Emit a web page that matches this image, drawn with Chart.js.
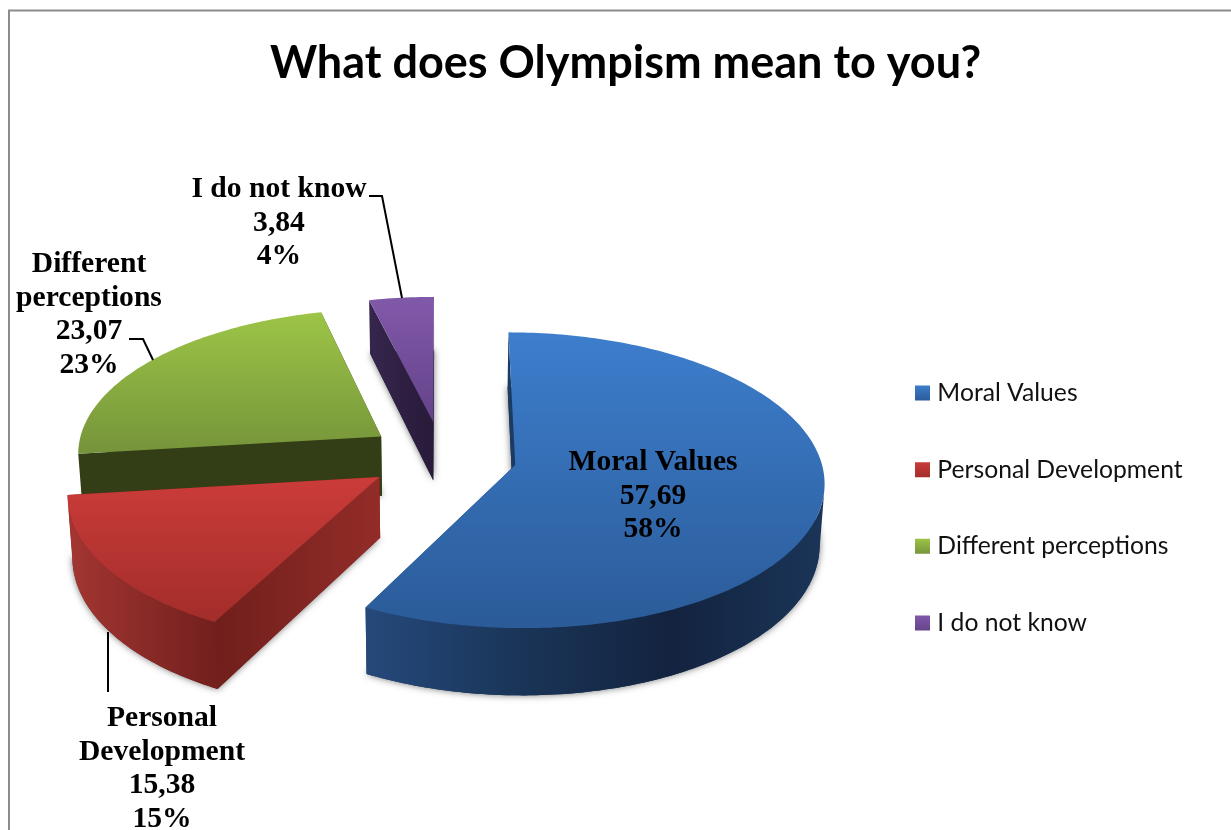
<!DOCTYPE html>
<html>
<head>
<meta charset="utf-8">
<title>What does Olympism mean to you?</title>
<style>
  html, body { margin: 0; background: #fff; }
  canvas { display: block; }
</style>
<script src="https://cdn.jsdelivr.net/npm/chart.js@4"></script>
</head>
<body>
<canvas id="chart" width="1231" height="830"></canvas>
<script>
const categories = ['Moral Values', 'Personal Development', 'Different perceptions', 'I do not know'];
const values = [57.69, 15.38, 23.07, 3.84];
const chartTitle = 'What does Olympism mean to you?';

// label text per slice, wrapped by hand
const labelLines = [['Moral Values'], ['Personal', 'Development'], ['Different', 'perceptions'], ['I do not know']];

// slice styling: top face gradient (back to front), rim and radial wall shading
const topColors = [['#3d7ecd', '#2b5b98'], ['#cb3c39', '#a22d2a'], ['#9dc547', '#75943a'], ['#8159aa', '#64438a']];
const rimColors = [['#25497b', '#1a3558', '#13233f', '#1a3558'], ['#a33632', '#721f1d'], ['#333e16', '#333e16'], ['#34254c', '#281a38']];
const startWallColors = [['#1c3b63', '#1c3b63'], ['#701f1c', '#932c28'], ['#333e16', '#333e16'], ['#36264e', '#281a38']];
const endWallColors = [['#1c3b63', '#1c3b63'], ['#701f1c', '#701f1c'], ['#323d15', '#343f16'], ['#2a1c3c', '#2a1c3c']];

// where each label block sits: centre x, centre y of its first line
const labelAnchors = [[653, 462], [162, 718], [89, 264], [279, 189]];
const labelLineHeight = 33.9;
// leader lines from label to slice
const leaderLines = [
  null,
  [[108, 632], [108, 692]],
  [[129, 339], [143, 339], [153, 360]],
  [[369, 196], [382, 196], [402, 298]]
];

const drawOrder = [3, 2, 0, 1];

// pie projection
const pieCenter = { x: 442, y: 456.5 };
const pieRadius = 305;
const explode = 75;
const tilt = 0.474;
const perspective = 0.102;
const depth = 60;
const floorShrink = 0.987;

function project(arc, angle, radius, lower) {
  const mid = (arc.startAngle + arc.endAngle) / 2;
  const off = arc.options.offset;
  const wx = off * Math.cos(mid) + radius * Math.cos(angle);
  const wy = off * Math.sin(mid) + radius * Math.sin(angle);
  const s = 1 / (1 - perspective * wy / arc.outerRadius);
  if (lower) {
    return [arc.x + wx * s * floorShrink, arc.y + wy * tilt * s + depth * s];
  }
  return [arc.x + wx * s, arc.y + wy * tilt * s];
}

function arcPoints(arc, lower) {
  const pts = [];
  const steps = Math.ceil((arc.endAngle - arc.startAngle) / (Math.PI / 180));
  for (let i = 0; i <= steps; i++) {
    const a = arc.startAngle + (arc.endAngle - arc.startAngle) * i / steps;
    pts.push(project(arc, a, arc.outerRadius, lower));
  }
  return pts;
}

function tracePoly(ctx, pts) {
  ctx.beginPath();
  pts.forEach((p, i) => (i ? ctx.lineTo(p[0], p[1]) : ctx.moveTo(p[0], p[1])));
  ctx.closePath();
}

function gradientFor(ctx, x0, y0, x1, y1, colors) {
  const g = ctx.createLinearGradient(x0, y0, x1, y1);
  colors.forEach((c, i) => g.addColorStop(i / (colors.length - 1), c));
  return g;
}

function fillHorizontal(ctx, pts, colors) {
  const xs = pts.map(p => p[0]);
  ctx.fillStyle = gradientFor(ctx, Math.min(...xs), 0, Math.max(...xs), 0, colors);
  tracePoly(ctx, pts);
  ctx.fill();
}

// rim segments turned towards the viewer have a negative signed area on screen
function frontRange(top, bottom) {
  let first = -1;
  let last = -1;
  for (let k = 0; k < top.length - 1; k++) {
    const q = [top[k], top[k + 1], bottom[k + 1], bottom[k]];
    let area = 0;
    q.forEach((p, n) => {
      const r = q[(n + 1) % 4];
      area += p[0] * r[1] - r[0] * p[1];
    });
    if (area < 0) {
      if (first < 0) first = k;
      last = k + 1;
    }
  }
  return [first, last];
}

function drawSlice(ctx, arc, i) {
  const top = arcPoints(arc, false);
  const bottom = arcPoints(arc, true);
  const apexTop = project(arc, 0, 0, false);
  const apexBottom = project(arc, 0, 0, true);

  // soft shadow comes from the floor of the slice
  ctx.save();
  ctx.shadowColor = 'rgba(0,0,0,0.55)';
  ctx.shadowBlur = 7;
  ctx.fillStyle = rimColors[i][rimColors[i].length - 1];
  tracePoly(ctx, [apexBottom, ...bottom]);
  ctx.fill();
  ctx.restore();

  // the wall facing away goes down first so the nearer one covers it
  const startFacing = Math.sin(arc.startAngle - Math.PI / 2);
  const endFacing = Math.sin(arc.endAngle + Math.PI / 2);
  const startWall = [apexTop, top[0], bottom[0], apexBottom];
  const endWall = [apexTop, top[top.length - 1], bottom[bottom.length - 1], apexBottom];
  if (endFacing < startFacing) {
    fillHorizontal(ctx, endWall, endWallColors[i]);
    fillHorizontal(ctx, startWall, startWallColors[i]);
  } else {
    fillHorizontal(ctx, startWall, startWallColors[i]);
    fillHorizontal(ctx, endWall, endWallColors[i]);
  }

  const [first, last] = frontRange(top, bottom);
  if (first >= 0) {
    const rimTop = top.slice(first, last + 1);
    const rimBottom = bottom.slice(first, last + 1).reverse();
    fillHorizontal(ctx, [...rimTop, ...rimBottom], rimColors[i]);
  }

  const face = [apexTop, ...top];
  const ys = face.map(p => p[1]);
  ctx.fillStyle = gradientFor(ctx, 0, Math.min(...ys), 0, Math.max(...ys), topColors[i]);
  tracePoly(ctx, face);
  ctx.fill();
}

const pie3d = {
  id: 'pie3d',
  afterLayout(chart) {
    // pin the plot box around the pie centre
    const box = 380;
    chart.chartArea = {
      left: pieCenter.x - box, right: pieCenter.x + box,
      top: pieCenter.y - box, bottom: pieCenter.y + box,
      width: box * 2, height: box * 2
    };
    // legend column sits closer to the pie and lower than its default slot
    const legend = chart.legend;
    const pad = legend.options.labels.padding;
    const w = legend.width;
    legend.left = 920 - pad;
    legend.right = legend.left + w;
    const colH = legend.columnSizes[0].height;
    legend.top = 508 - colH / 2 - pad / 2;
    legend.bottom = legend.top + colH + pad;
    legend.adjustHitBoxes();
  },
  beforeDraw(chart) {
    const ctx = chart.ctx;
    // page frame, open on the right and at the bottom
    ctx.save();
    ctx.strokeStyle = '#8c8c8c';
    ctx.lineWidth = 2;
    ctx.beginPath();
    ctx.moveTo(9, 830);
    ctx.lineTo(9, 10.5);
    ctx.lineTo(1231, 10.5);
    ctx.stroke();
    ctx.restore();

    // small box plus a wide stroke keeps the text tight against the swatch
    const legend = chart.legend;
    legend.legendItems.forEach((item, i) => {
      const hit = legend.legendHitBoxes[i];
      const mid = hit.top + hit.height / 2;
      const g = gradientFor(ctx, 0, mid - 8, 0, mid + 8, topColors[i]);
      item.fillStyle = g;
      item.strokeStyle = g;
      item.lineWidth = 10;
    });
  },
  beforeDatasetsDraw(chart) {
    const ctx = chart.ctx;
    const arcs = chart.getDatasetMeta(0).data;
    drawOrder.forEach(i => drawSlice(ctx, arcs[i], i));
    return false;
  },
  afterDraw(chart) {
    const ctx = chart.ctx;
    ctx.save();
    ctx.fillStyle = '#000';
    ctx.strokeStyle = '#000';
    ctx.lineWidth = 2;
    leaderLines.forEach(line => {
      if (!line) return;
      ctx.beginPath();
      line.forEach((p, i) => (i ? ctx.lineTo(p[0], p[1]) : ctx.moveTo(p[0], p[1])));
      ctx.stroke();
    });
    ctx.font = 'bold 29.6px "Liberation Serif"';
    ctx.textAlign = 'center';
    ctx.textBaseline = 'middle';
    values.forEach((v, i) => {
      const total = values.reduce((a, b) => a + b, 0);
      const rows = [...labelLines[i], String(v).replace('.', ','), Math.round(v / total * 100) + '%'];
      rows.forEach((row, r) => {
        ctx.fillText(row, labelAnchors[i][0], labelAnchors[i][1] + r * labelLineHeight);
      });
    });
    ctx.restore();
  }
};

new Chart(document.getElementById('chart'), {
  type: 'pie',
  data: {
    labels: categories,
    datasets: [{
      data: values,
      backgroundColor: topColors.map(c => c[0]),
      borderWidth: 0,
      offset: explode
    }]
  },
  options: {
    responsive: false,
    animation: false,
    radius: pieRadius,
    layout: { padding: { left: 20 } },
    plugins: {
      title: {
        display: true,
        text: chartTitle,
        color: '#000',
        font: { family: 'Lato', size: 45, weight: 'bold' },
        padding: { top: 36, bottom: 10 }
      },
      legend: {
        position: 'right',
        labels: {
          boxWidth: 5,
          boxHeight: 5,
          padding: 52,
          color: '#111',
          font: { family: 'Lato', size: 24.7 }
        }
      },
      tooltip: { enabled: false }
    }
  },
  plugins: [pie3d]
});
</script>
</body>
</html>
